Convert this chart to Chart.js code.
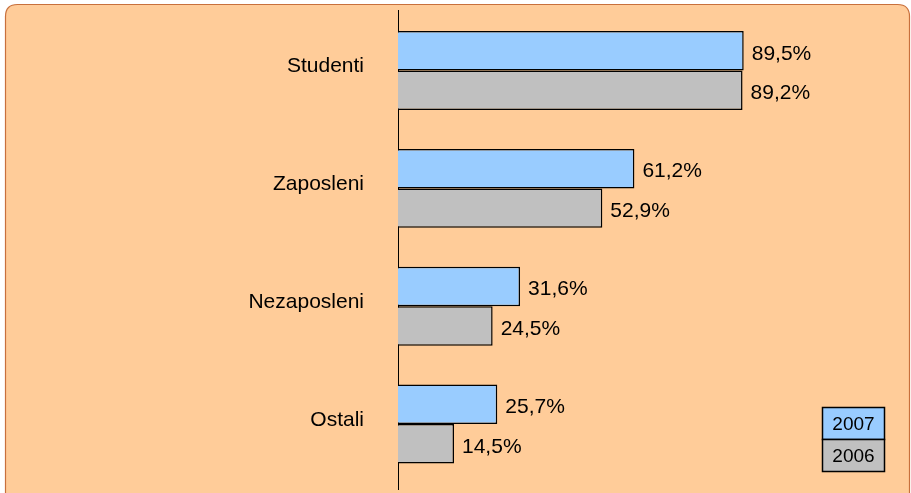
<!DOCTYPE html>
<html>
<head>
<meta charset="utf-8">
<script src="https://cdn.jsdelivr.net/npm/chart.js@4/dist/chart.umd.min.js"></script>
<style>
html,body{margin:0;padding:0;background:#fff;}
#wrap{width:911px;height:493px;}
</style>
</head>
<body>
<div id="wrap"><canvas id="c" width="911" height="493"></canvas></div>
<script>
const categories = ["Studenti", "Zaposleni", "Nezaposleni", "Ostali"];
const values2007 = [89.5, 61.2, 31.6, 25.7];
const values2006 = [89.2, 52.9, 24.5, 14.5];
const seriesNames = ["2007", "2006"];
const seriesColors = ["#99CCFF", "#C0C0C0"];

const FONT = '"Liberation Sans", Arial, sans-serif';

const bgPlugin = {
  id: 'bg',
  beforeDraw(chart) {
    const ctx = chart.ctx;
    ctx.save();
    const x = 5.5, y = 4.5, w = 904, h = 510, r = 12;
    ctx.beginPath();
    ctx.moveTo(x + r, y);
    ctx.lineTo(x + w - r, y);
    ctx.quadraticCurveTo(x + w, y, x + w, y + r);
    ctx.lineTo(x + w, y + h);
    ctx.lineTo(x, y + h);
    ctx.lineTo(x, y + r);
    ctx.quadraticCurveTo(x, y, x + r, y);
    ctx.closePath();
    ctx.fillStyle = '#FFCC99';
    ctx.fill();
    ctx.strokeStyle = '#C8703C';
    ctx.lineWidth = 1.2;
    ctx.stroke();
    ctx.restore();
  },
  beforeDatasetsDraw(chart) {
    const ctx = chart.ctx;
    const xs = chart.scales.x;
    const x0 = Math.round(xs.getPixelForValue(0)) + 0.5;
    ctx.save();
    ctx.strokeStyle = '#000';
    ctx.lineWidth = 1;
    ctx.beginPath();
    ctx.moveTo(x0, 10);
    ctx.lineTo(x0, 490);
    ctx.stroke();
    ctx.restore();
  },
  afterDatasetsDraw(chart) {
    const ctx = chart.ctx;
    ctx.save();
    ctx.font = '21px ' + FONT;
    ctx.fillStyle = '#000';
    ctx.textBaseline = 'middle';
    ctx.textAlign = 'left';
    chart.data.datasets.forEach((ds, di) => {
      const meta = chart.getDatasetMeta(di);
      meta.data.forEach((bar, i) => {
        const v = ds.data[i];
        const txt = v.toFixed(1).replace('.', ',') + '%';
        ctx.fillText(txt, bar.x + 8, bar.y + 3);
      });
    });
    // legend
    const lx = 822.5, ly = 407.5, lw = 62, lh = 32;
    seriesNames.forEach((name, i) => {
      ctx.fillStyle = seriesColors[i];
      ctx.fillRect(lx, ly + i * lh, lw, lh);
      ctx.strokeStyle = '#000';
      ctx.lineWidth = 1.5;
      ctx.strokeRect(lx, ly + i * lh, lw, lh);
      ctx.fillStyle = '#000';
      ctx.font = '19px ' + FONT;
      ctx.textAlign = 'center';
      ctx.fillText(name, lx + lw / 2, ly + i * lh + lh / 2 + 1);
    });
    ctx.restore();
  }
};

new Chart(document.getElementById('c'), {
  type: 'bar',
  data: {
    labels: categories,
    datasets: [
      { label: seriesNames[0], data: values2007, backgroundColor: seriesColors[0], borderColor: '#000', borderWidth: 1.5, categoryPercentage: 0.67, barPercentage: 1.0 },
      { label: seriesNames[1], data: values2006, backgroundColor: seriesColors[1], borderColor: '#000', borderWidth: 1.5, categoryPercentage: 0.67, barPercentage: 1.0 }
    ]
  },
  options: {
    indexAxis: 'y',
    responsive: false,
    animation: false,
    layout: { padding: { top: 11.6, bottom: 10, left: 0, right: 7 } },
    plugins: { legend: { display: false }, title: { display: false }, tooltip: { enabled: false } },
    scales: {
      x: {
        display: false,
        min: 0,
        max: 131
      },
      y: {
        position: 'left',
        grid: { display: false, drawTicks: false },
        border: { display: false },
        ticks: { color: '#000', font: { family: FONT, size: 21 }, padding: 34, labelOffset: -4 },
        afterFit(scale) { scale.width = 398; scale.paddingTop = 0; scale.paddingBottom = 0; }
      }
    }
  },
  plugins: [bgPlugin]
});
</script>
</body>
</html>
